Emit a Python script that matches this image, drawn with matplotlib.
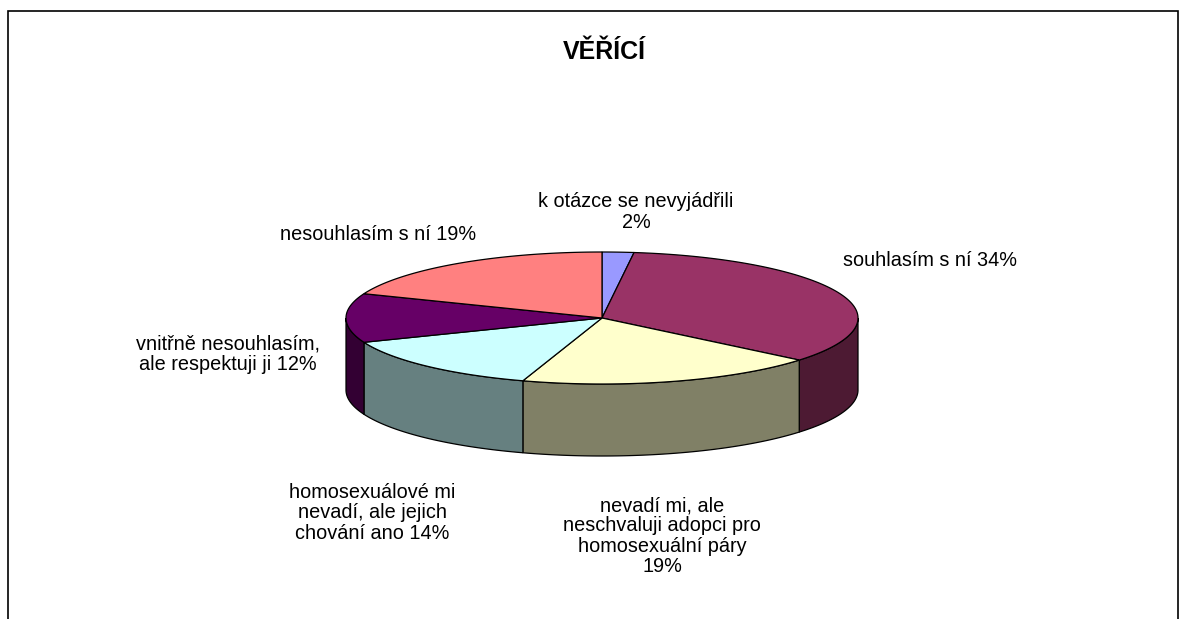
import numpy as np
import matplotlib
matplotlib.use('Agg')
import matplotlib.pyplot as plt
from matplotlib.patches import Polygon, Rectangle

plt.rcParams['font.family'] = ['Liberation Sans', 'DejaVu Sans']

####### Data
labels = ['k otázce se nevyjádřili\n2%', 'souhlasím s ní 34%',
          'nevadí mi, ale\nneschvaluji adopci pro\nhomosexuální páry\n19%',
          'homosexuálové mi\nnevadí, ale jejich\nchování ano 14%',
          'vnitřně nesouhlasím,\nale respektuji ji 12%', 'nesouhlasím s ní 19%']
values = [2, 34, 19, 14, 12, 19]
top_colors = ['#9999FF', '#993366', '#FFFFCC', '#CCFFFF', '#660066', '#FF8080']
side_colors = ['#4D4D80', '#4D1A33', '#808066', '#668080', '#330033', '#804040']
label_pos = [(636, 212), (930, 260), (662, 536), (372, 513), (228, 354), (378, 235)]

####### Pie geometry, pixels
cx, cy = 602, 318
rx, ry = 256, 66
depth = 72


def rim(a1, a2):
    # angles are clockwise from the top of the pie
    t = np.radians(np.linspace(a1, a2, 200))
    return np.column_stack([cx + rx*np.sin(t), cy - ry*np.cos(t)])


fig = plt.figure(figsize=(11.88, 6.19), dpi=100)
ax = fig.add_axes([0, 0, 1, 1])
ax.set_xlim(0, 1188)
ax.set_ylim(619, 0)
ax.axis('off')

# chart frame, the bottom edge is cut off by the image
ax.add_patch(Rectangle((8, 11), 1170, 640, fc='white', ec='black', lw=1.2))

edges = np.cumsum([0] + values)*3.6

####### Side wall, only the front half of the rim shows
for i in range(len(values)):
    a1, a2 = max(edges[i], 90), min(edges[i+1], 270)
    if a1 >= a2:
        continue
    arc = rim(a1, a2)
    wall = np.vstack([arc, arc[::-1] + [0, depth]])
    ax.add_patch(Polygon(wall, fc=side_colors[i], ec='black', lw=0.9, zorder=2))

####### Top of the pie
for i in range(len(values)):
    arc = rim(edges[i], edges[i+1])
    ax.add_patch(Polygon(np.vstack([[cx, cy], arc]), fc=top_colors[i], ec='black', lw=0.9, zorder=3))

####### Text
ax.text(604, 52, 'VĚŘÍCÍ', fontsize=18, fontweight='bold', ha='center', va='center')
for lab, pos in zip(labels, label_pos):
    ax.text(pos[0], pos[1], lab, fontsize=14.3, ha='center', va='center', linespacing=1.08, zorder=4)

fig.savefig('out.png', dpi=100)
